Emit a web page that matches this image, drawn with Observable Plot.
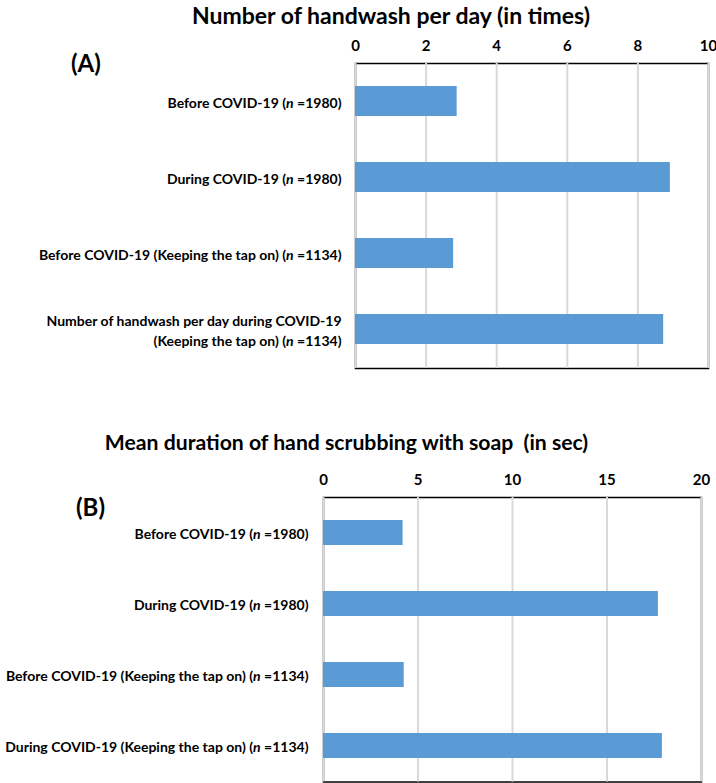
<!DOCTYPE html>
<html><head><meta charset="utf-8">
<script src="https://cdn.jsdelivr.net/npm/d3@7"></script>
<script src="https://cdn.jsdelivr.net/npm/@observablehq/plot@0.6"></script>
<style>
body{margin:0;background:#fff;font-family:Lato, "Open Sans", sans-serif;}
#wrap{position:relative;width:716px;height:783px;overflow:hidden;background:#fff;}
.title{position:absolute;font-weight:bold;font-size:23px;line-height:26px;white-space:pre;transform:translateX(-50%);color:#000;}
.panel{position:absolute;font-weight:bold;font-size:24px;line-height:28px;color:#000;}
.chart{position:absolute;left:0;}
.chart svg{overflow:visible;}
</style></head><body><div id="wrap"></div>
<script>
const titleA = "Number of handwash per day (in times)";
const panelA = "(A)";
const categoriesA = [
  "Before COVID-19 (n =1980)",
  "During COVID-19 (n =1980)",
  "Before COVID-19 (Keeping the tap on) (n =1134)",
  "Number of handwash per day during COVID-19\n(Keeping the tap on) (n =1134)"
];
const valuesA = [2.88, 8.92, 2.78, 8.73];
const ticksA = [0, 2, 4, 6, 8, 10];

const titleB = "Mean duration of hand scrubbing with soap  (in sec)";
const panelB = "(B)";
const categoriesB = [
  "Before COVID-19 (n =1980)",
  "During COVID-19 (n =1980)",
  "Before COVID-19 (Keeping the tap on) (n =1134)",
  "During COVID-19 (Keeping the tap on) (n =1134)"
];
const valuesB = [4.21, 17.72, 4.27, 17.93];
const ticksB = [0, 5, 10, 15, 20];

const wrap = document.getElementById("wrap");

function italicizeN(svg) {
  svg.querySelectorAll('[aria-label="y-axis tick label"] text').forEach(t => {
    const tsp = t.querySelectorAll("tspan");
    const nodes = tsp.length ? Array.from(tsp) : [t];
    nodes.forEach(node => {
      const s = node.textContent;
      const i = s.indexOf("(n =");
      if (i < 0) return;
      node.textContent = "";
      node.appendChild(document.createTextNode(s.slice(0, i + 1)));
      const it = document.createElementNS("http://www.w3.org/2000/svg", "tspan");
      it.setAttribute("font-style", "italic");
      it.textContent = "n";
      node.appendChild(it);
      node.appendChild(document.createTextNode(s.slice(i + 2)));
    });
  });
}

function makeChart(cats, vals, ticks, o) {
  const data = cats.map((c, i) => ({label: c, value: vals[i]}));
  const svg = Plot.plot({
    width: 716,
    height: o.height,
    marginTop: o.mt, marginBottom: o.mb, marginLeft: o.ml, marginRight: o.mr,
    style: {fontFamily: "Lato, 'Open Sans', sans-serif", fontWeight: "bold", color: "#000", background: "transparent", overflow: "visible"},
    x: {domain: [0, ticks[ticks.length - 1]], axis: null, label: null},
    y: {domain: cats, paddingInner: o.pi, paddingOuter: o.pi / 2, axis: null, label: null},
    marks: [
      Plot.frame({stroke: "#000", strokeWidth: 1.5}),
      Plot.gridX(ticks, {stroke: "#d9d9d9", strokeOpacity: 1, strokeWidth: 2}),
      Plot.barX(data, {x: "value", y: "label", fill: "#5b9bd5"}),
      Plot.axisX({anchor: "top", ticks: ticks, tickSize: 0, tickPadding: 13, fontSize: 15, fill: "#000", label: null}),
      Plot.axisY({anchor: "left", tickSize: 0, tickPadding: o.tp, fontSize: 14, lineHeight: 1.43, fill: "#000", label: null, tickFormat: d => d})
    ]
  });
  italicizeN(svg);
  const div = document.createElement("div");
  div.className = "chart";
  div.style.top = o.top + "px";
  div.appendChild(svg);
  wrap.appendChild(div);
}

function addText(cls, txt, left, top, size, lh) {
  const d = document.createElement("div");
  d.className = cls;
  d.textContent = txt;
  d.style.left = left + "px";
  d.style.top = top + "px";
  if (size) d.style.fontSize = size + "px";
  if (lh) d.style.lineHeight = lh + "px";
  wrap.appendChild(d);
}

makeChart(categoriesA, valuesA, ticksA, {top: 0, height: 400, mt: 63, mb: 32, ml: 355, mr: 8, pi: 0.6, tp: 14});
makeChart(categoriesB, valuesB, ticksB, {top: 400, height: 383, mt: 97, mb: 1.5, ml: 323, mr: 15, pi: 0.65, tp: 15});

addText("title", titleA, 391, 1, 23, 28);
addText("title", titleB, 346.5, 429, 21.2, 26);
addText("panel", panelA, 71, 49);
addText("panel", panelB, 76, 493);
</script></body></html>
